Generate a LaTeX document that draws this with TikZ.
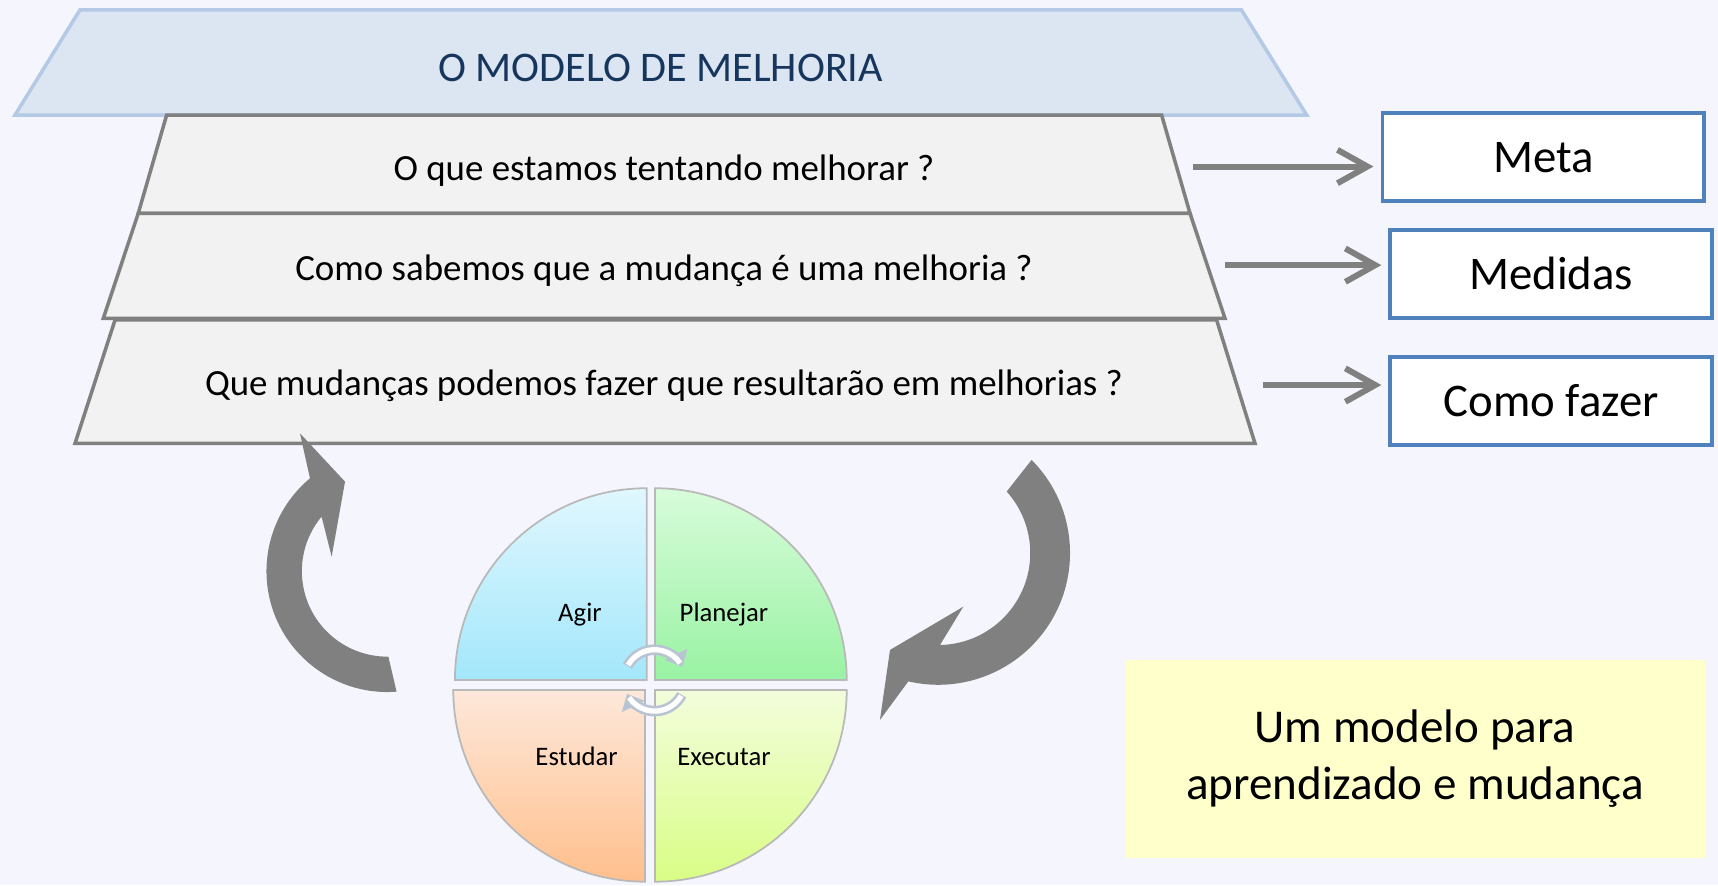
\documentclass[tikz,border=0pt]{standalone}
\usepackage{fontspec}
\setmainfont{Carlito}
\usetikzlibrary{arrows.meta,positioning}

\definecolor{fundo}{RGB}{245,246,253}
\definecolor{faixa}{RGB}{220,230,242}
\definecolor{faixaborda}{RGB}{180,201,230}
\definecolor{titulo}{RGB}{23,54,93}
\definecolor{degrau}{RGB}{242,242,242}
\definecolor{cinza}{RGB}{128,128,128}
\definecolor{azul}{RGB}{79,129,189}
\definecolor{nota}{RGB}{255,255,204}
\definecolor{ciclo}{RGB}{184,196,210}
\definecolor{agirA}{RGB}{224,247,254}
\definecolor{agirB}{RGB}{163,231,251}
\definecolor{planA}{RGB}{216,252,218}
\definecolor{planB}{RGB}{153,242,163}
\definecolor{estA}{RGB}{254,232,218}
\definecolor{estB}{RGB}{255,191,140}
\definecolor{exeA}{RGB}{243,253,220}
\definecolor{exeB}{RGB}{217,253,134}

\begin{document}
\begin{tikzpicture}[x=0.3117pt, y=0.3117pt,
    faixa/.style={fill=faixa, draw=faixaborda, line width=1pt},
    degrau/.style={fill=degrau, draw=cinza, line width=1pt},
    pergunta/.style={font=\fontsize{10.5}{12.6}\selectfont},
    caixa/.style={draw=azul, fill=white, line width=1.1pt, inner sep=0pt,
        minimum width=91.5pt, minimum height=25pt, font=\fontsize{13.3}{16}\selectfont},
    seta/.style={draw=cinza, line width=1.7pt, -{Straight Barb[length=8.5pt,width=9.5pt]}, shorten >=2pt},
    quadrante/.style={draw=gray!55, line width=0.5pt},
    rotulo/.style={font=\fontsize{7.6}{9}\selectfont},
    ciclo/.style={draw=ciclo, line width=3pt}]
    \useasboundingbox (0,0) rectangle (1568,808);
    \fill [fundo] (0,0) rectangle (1568,808);

    % faixa do titulo e os tres degraus
    \draw [faixa] (73,799) -- (1133,799) -- (1192.6,703) -- (13.7,703) -- cycle;
    \node [font=\fontsize{12}{14}\selectfont, text=titulo] (titulo) at (603,746) {O MODELO DE MELHORIA};
    \draw [degrau] (152.1,703) -- (1060.2,703) -- (1086.1,613.3) -- (126.2,613.3) -- cycle;
    \draw [degrau] (126.2,613.3) -- (1086.1,613.3) -- (1118,517.5) -- (94.3,517.5) -- cycle;
    \draw [degrau] (105,516) -- (1110.4,516) -- (1145.4,403.4) -- (68.5,403.4) -- cycle;
    \node [pergunta] (q1) at (606,652.5) {O que estamos tentando melhorar ?};
    \node [pergunta] (q2) at (606,561) {Como sabemos que a mudança é uma melhoria ?};
    \node [pergunta] (q3) at (606,456) {Que mudanças podemos fazer que resultarão em melhorias ?};

    % caixas da direita
    \node [caixa] (meta) at (1408.5,664.5) {Meta};
    \node [caixa] (medidas) at (1415.7,558) {Medidas};
    \node [caixa] (comofazer) at (1415.7,442) {Como fazer};
    \coordinate (s1) at (1089,656);
    \coordinate (s2) at (1118,566);
    \coordinate (s3) at (1153,456.6);
    \draw [seta] (s1) -- (s1 -| meta.west);
    \draw [seta] (s2) -- (s2 -| medidas.west);
    \draw [seta] (s3) -- (s3 -| comofazer.west);

    % setas curvas
    \coordinate (ce) at (353.5,286.7);
    \fill [cinza] (ce) ++(274.4:110.3) arc [start angle=274.4, end angle=129.8, radius=110.3]
        -- (273.8,412.5) -- (314.9,368.4) -- (302.7,299.9) -- (293.5,336.5)
        arc [start angle=140.3, end angle=270.7, radius=78] -- cycle;
    \coordinate (cd) at (856.3,303.3);
    \fill [cinza] (cd) ++(44.9:120.3) arc [start angle=44.9, end angle=-103.1, radius=120.3]
        -- (803.1,150.9) -- (812.3,214.8) -- (879.2,254.3) -- (857.9,219.3)
        arc [start angle=-88.9, end angle=41.9, radius=84] -- cycle;

    % ciclo PDSA
    \draw [quadrante, top color=agirA, bottom color=agirB] (590.2,187.4) -- ++(-175,0)
        arc [start angle=180, end angle=90, radius=175] -- cycle;
    \draw [quadrante, top color=planA, bottom color=planB] (597.8,187.4) -- ++(0,175)
        arc [start angle=90, end angle=0, radius=175] -- cycle;
    \draw [quadrante, top color=estA, bottom color=estB] (588.7,178.3) -- ++(0,-175)
        arc [start angle=270, end angle=180, radius=175] -- cycle;
    \draw [quadrante, top color=exeA, bottom color=exeB] (597.8,178.3) -- ++(175,0)
        arc [start angle=0, end angle=-90, radius=175] -- cycle;
    \node [rotulo] (agir) at (529.3,246.7) {Agir};
    \node [rotulo] (planejar) at (660.8,246.7) {Planejar};
    \node [rotulo] (estudar) at (526.3,117.4) {Estudar};
    \node [rotulo] (executar) at (660.8,117.4) {Executar};
    \coordinate (eixo) at (597.5,187);
    \draw [ciclo, -{Triangle[length=4pt,width=7pt]}] (eixo) ++(152:28) arc [start angle=152, end angle=26, radius=28];
    \draw [white, line width=1.5pt] (eixo) ++(150:28) arc [start angle=150, end angle=34, radius=28];
    \draw [ciclo, -{Triangle[length=4pt,width=7pt]}] (eixo) ++(-28:28) arc [start angle=-28, end angle=-154, radius=28];
    \draw [white, line width=1.5pt] (eixo) ++(-30:28) arc [start angle=-30, end angle=-146, radius=28];

    % nota
    \node [fill=nota, minimum width=164.9pt, minimum height=56.4pt, align=center,
        font=\fontsize{13.4}{16.2}\selectfont] (nota) at (1291.5,115.5) {Um modelo para\\aprendizado e mudança};
\end{tikzpicture}
\end{document}
